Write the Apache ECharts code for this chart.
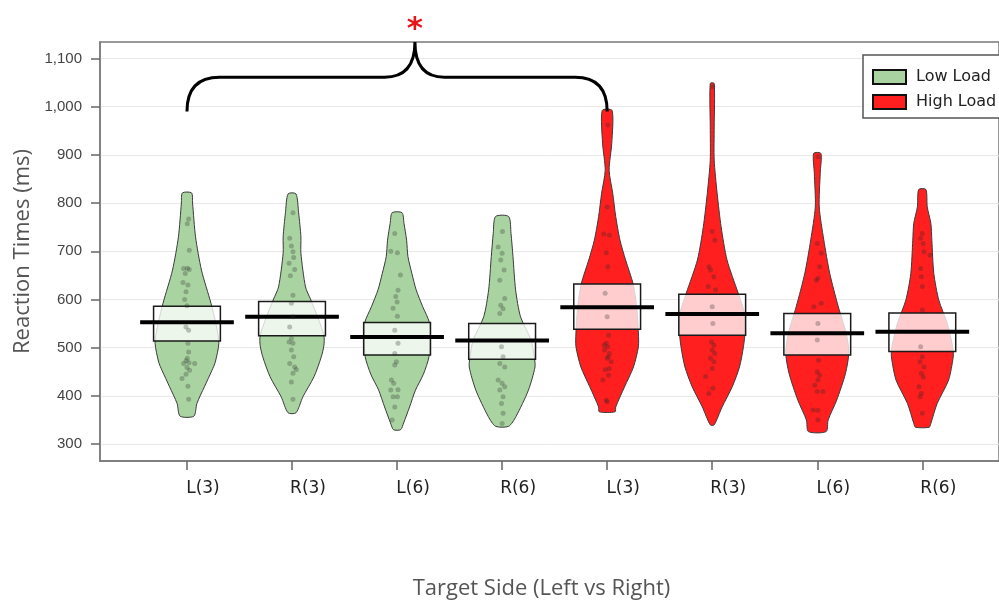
<!DOCTYPE html>
<html>
<head>
<meta charset="utf-8">
<title>Reaction times by target side</title>
<script src="https://cdn.jsdelivr.net/npm/echarts@6/dist/echarts.min.js"></script>
<style>
  html, body { margin: 0; padding: 0; background: #fff; }
  #chart { width: 999px; height: 606px; }
</style>
</head>
<body>
<div id="chart"></div>
<script>
// categories and load condition of each violin
const categories = ["L(3)", "R(3)", "L(6)", "R(6)", "L(3)", "R(3)", "L(6)", "R(6)"];
const loadNames = ["Low Load", "High Load"];
const loadOf = [0, 0, 0, 0, 1, 1, 1, 1];
const yTicks = [300, 400, 500, 600, 700, 800, 900, 1000, 1100];

// mean and confidence interval (ms)
const means = [553, 564, 522, 515, 584, 570, 530, 533];
const ciLow = [514, 525, 485, 476, 538, 526, 485, 492];
const ciHigh = [586, 596, 552, 550, 632, 611, 571, 572];

// violin density profiles: [ms, relative density]
const densLowL3 = [[358, .21], [384, .30], [419, .53], [453, .76], [470, .86], [509, .97], [540, .91], [592, .73], [661, .44], [730, .26], [800, .17], [821, .14]];
const densLowR3 = [[365, .12], [398, .33], [440, .67], [481, .89], [505, .97], [525, .97], [560, .80], [601, .56], [626, .41], [696, .27], [730, .27], [780, .20], [819, .12]];
const densLowL6 = [[330, .11], [344, .20], [377, .38], [412, .56], [445, .80], [481, .97], [522, 1.0], [553, .98], [585, .78], [620, .58], [654, .45], [689, .33], [723, .29], [758, .21], [780, .15]];
const densLowR6 = [[337, .20], [357, .42], [412, .80], [460, 1.0], [480, .98], [516, .88], [564, .56], [620, .41], [689, .33], [737, .27], [772, .20]];
const densHighL3 = [[367, .24], [377, .26], [419, .53], [460, .80], [502, .95], [530, .95], [583, .90], [632, .79], [682, .56], [723, .39], [772, .26], [820, .17], [868, .06], [924, .14], [992, .15]];
const densHighR3 = [[340, .06], [377, .30], [419, .61], [460, .83], [502, .95], [535, 1.0], [572, .98], [613, .79], [682, .45], [751, .27], [820, .15], [889, .06], [958, .06], [1048, .06]];
const densHighL6 = [[326, .27], [350, .33], [391, .59], [447, .86], [490, .96], [530, .88], [585, .64], [654, .38], [723, .20], [792, .06], [862, .09], [903, .11]];
const densHighR6 = [[335, .21], [343, .26], [384, .45], [433, .80], [481, .94], [500, .93], [550, .76], [599, .50], [654, .35], [723, .29], [758, .26], [792, .15], [828, .11]];
const densities = [densLowL3, densLowR3, densLowL6, densLowR6, densHighL3, densHighR3, densHighL6, densHighR6];

// individual participants: [ms, jitter]
const ptsLowL3 = [[767, .016], [757, .003], [702, .022], [664, -.032], [665, .003], [662, .022], [654, -.016], [635, -.038], [630, .009], [616, -.009], [600, -.022], [587, 0], [543, -.01], [536, .016], [509, .009], [491, .016], [478, .003], [473, -.009], [469, .019], [467, -.032], [467, .073], [459, 0], [453, .025], [445, -.009], [436, -.047], [420, .009], [393, .016]];
const ptsLowR3 = [[780, .009], [727, -.022], [711, -.006], [699, .009], [687, .016], [675, -.028], [662, .025], [649, -.016], [609, .009], [592, -.006], [564, .009], [543, -.022], [519, -.006], [512, -.028], [509, .009], [495, -.006], [481, .016], [467, -.022], [460, .025], [455, .041], [447, .009], [429, -.006], [393, .009]];
const ptsLowL6 = [[737, -.022], [700, -.06], [697, .003], [651, .032], [619, .009], [606, -.013], [595, 0], [582, -.038], [565, .003], [536, -.022], [509, .009], [488, -.022], [471, -.006], [464, -.022], [433, -.054], [426, -.032], [413, .009], [412, -.06], [398, -.038], [398, .003], [377, -.022], [350, -.047]];
const ptsLowR6 = [[741, .003], [709, -.038], [696, 0], [682, -.013], [661, .019], [640, -.022], [602, .025], [588, -.013], [581, .009], [571, -.022], [502, -.006], [481, .009], [467, -.022], [460, .025], [433, -.038], [426, 0], [419, .025], [412, -.022], [398, .009], [384, -.006], [364, .009], [343, 0]];
const ptsHighL3 = [[962, .006], [792, 0], [736, -.032], [733, .022], [697, -.009], [668, .006], [613, -.019], [564, 0], [526, .013], [509, -.009], [505, -.03], [502, .006], [495, -.025], [488, .022], [481, .01], [478, 0], [471, .038], [457, .02], [454, -.019], [443, .013], [433, -.041], [391, -.009], [388, 0]];
const ptsHighR3 = [[1041, .006], [741, 0], [723, .025], [668, -.032], [661, -.016], [647, .016], [627, -.038], [620, .032], [585, 0], [550, .006], [512, -.006], [505, .016], [495, 0], [488, .025], [478, -.016], [471, .016], [457, 0], [440, -.063], [416, .006], [405, -.032]];
const ptsHighL6 = [[896, .006], [716, 0], [696, .038], [668, .022], [644, .006], [640, -.01], [592, .038], [585, -.032], [550, .006], [516, 0], [474, .013], [450, 0], [443, .022], [433, .006], [422, -.025], [409, 0], [409, .054], [371, -.041], [370, .006], [350, .006]];
const ptsHighR6 = [[737, 0], [727, -.016], [716, .009], [699, .016], [692, .073], [664, -.016], [647, -.009], [627, 0], [578, 0], [502, -.016], [481, 0], [471, -.022], [460, .016], [447, -.009], [439, .009], [419, -.032], [405, -.009], [398, -.022], [364, 0]];
const points = [ptsLowL3, ptsLowR3, ptsLowL6, ptsLowR6, ptsHighL3, ptsHighR3, ptsHighL6, ptsHighR6];

// significance bracket between first Low and first High violin
const bracket = { from: 0, to: 4, peak: 2.17, low: 990, mid: 1061, top: 1134, star: 1160 };

const loadColors = ["#a9d4a1", "#ff1f1f"];
const VIOLIN_HALF = 0.313;
const BOX_HALF = 0.318;
const MEAN_HALF = 0.446;

function violinItem(params, api) {
  const i = api.value(0);
  const prof = densities[i];
  const right = prof.map(p => api.coord([i + p[1] * VIOLIN_HALF, p[0]]));
  const left = prof.slice().reverse().map(p => api.coord([i - p[1] * VIOLIN_HALF, p[0]]));
  return {
    type: "polygon",
    shape: { points: right.concat(left), smooth: 0.25 },
    style: { fill: api.visual("color"), stroke: "#3a3a3a", lineWidth: 1 }
  };
}

function summaryItem(params, api) {
  const i = api.value(0);
  const tl = api.coord([i - BOX_HALF, ciHigh[i]]);
  const br = api.coord([i + BOX_HALF, ciLow[i]]);
  const m0 = api.coord([i - MEAN_HALF, means[i]]);
  const m1 = api.coord([i + MEAN_HALF, means[i]]);
  return {
    type: "group",
    children: [
      {
        type: "rect",
        shape: { x: tl[0], y: tl[1], width: br[0] - tl[0], height: br[1] - tl[1] },
        style: { fill: "rgba(255,255,255,0.78)", stroke: "#1a1a1a", lineWidth: 1.5 }
      },
      {
        type: "line",
        shape: { x1: m0[0], y1: m0[1], x2: m1[0], y2: m1[1] },
        style: { stroke: "#000", lineWidth: 4 }
      }
    ]
  };
}

function bracketItem(params, api) {
  const b = bracket;
  const c = (x, y) => api.coord([x, y]).join(" ");
  const d = "M " + c(b.from, b.low) +
    " Q " + c(b.from, b.mid) + " " + c(b.from + 0.31, b.mid) +
    " L " + c(b.peak - 0.29, b.mid) +
    " Q " + c(b.peak, b.mid) + " " + c(b.peak, b.top) +
    " Q " + c(b.peak, b.mid) + " " + c(b.peak + 0.28, b.mid) +
    " L " + c(b.to - 0.305, b.mid) +
    " Q " + c(b.to, b.mid) + " " + c(b.to, b.low);
  const s = api.coord([b.peak, b.star]);
  return {
    type: "group",
    children: [
      { type: "path", shape: { pathData: d }, style: { fill: null, stroke: "#000", lineWidth: 3 } },
      {
        type: "text", x: s[0], y: s[1],
        style: { text: "*", fill: "#e8141c", font: "bold 31px 'DejaVu Sans'", align: "center", verticalAlign: "middle" }
      }
    ]
  };
}

const violinSeries = loadNames.map((name, g) => ({
  name: name,
  type: "custom",
  renderItem: violinItem,
  itemStyle: { color: loadColors[g] },
  encode: { x: 0 },
  data: categories.map((c, i) => [i]).filter(d => loadOf[d[0]] === g)
}));

const pointData = [];
points.forEach((list, i) => list.forEach(p => pointData.push([i + p[1], p[0]])));

const chart = echarts.init(document.getElementById("chart"));
chart.setOption({
  animation: false,
  grid: { left: 100, right: -3, top: 42, bottom: 145, show: true, borderColor: "#7a7a7a", borderWidth: 1.5 },
  // legend frame runs off the right edge, as in the source figure
  graphic: [{
    type: "rect",
    x: 863, y: 55, z: 3,
    shape: { width: 170, height: 63 },
    style: { fill: "#fff", stroke: "#555", lineWidth: 1.5 }
  }],
  legend: {
    data: loadNames,
    orient: "vertical",
    left: 863,
    top: 55,
    padding: [14, 10, 9, 9],
    itemGap: 9,
    itemWidth: 33,
    itemHeight: 14,
    icon: "rect",
    itemStyle: { borderColor: "#111", borderWidth: 2 },
    textStyle: { fontFamily: "DejaVu Sans", fontSize: 16, color: "#222", padding: [0, 0, 0, 5] }
  },
  xAxis: {
    type: "value",
    min: -0.828,
    max: 7.73,
    name: "Target Side (Left vs Right)",
    nameLocation: "middle",
    nameGap: 117,
    nameTextStyle: { fontFamily: "Open Sans", fontSize: 22, color: "#555", padding: [0, 16, 0, 0] },
    axisLine: { onZero: false, lineStyle: { color: "#7a7a7a", width: 1.5 } },
    axisTick: { customValues: [0, 1, 2, 3, 4, 5, 6, 7], length: 9, lineStyle: { color: "#666", width: 1.5 } },
    axisLabel: {
      customValues: [0, 1, 2, 3, 4, 5, 6, 7],
      formatter: v => categories[Math.round(v)],
      fontFamily: "DejaVu Sans", fontSize: 17, color: "#222", margin: 19, padding: [0, 0, 0, 32]
    },
    splitLine: { show: false }
  },
  yAxis: {
    type: "value",
    min: 265,
    max: 1134,
    name: "Reaction Times (ms)",
    nameLocation: "middle",
    nameGap: 60,
    nameTextStyle: { fontFamily: "Open Sans", fontSize: 22, color: "#555" },
    axisLine: { show: true, onZero: false, lineStyle: { color: "#7a7a7a", width: 1.5 } },
    axisTick: { show: true, customValues: yTicks, length: 9, lineStyle: { color: "#666", width: 1.5 } },
    axisLabel: {
      customValues: yTicks,
      formatter: v => v.toLocaleString("en-US"),
      fontFamily: "Liberation Sans", fontSize: 15, color: "#444", margin: 18
    },
    splitLine: { show: true, lineStyle: { color: "#e8e8e8", width: 1 } }
  },
  series: violinSeries.concat([
    {
      name: "points",
      type: "scatter",
      symbolSize: 5,
      itemStyle: { color: "rgba(40,40,40,0.35)" },
      silent: true,
      data: pointData
    },
    {
      name: "summary",
      type: "custom",
      renderItem: summaryItem,
      encode: { x: 0 },
      data: categories.map((c, i) => [i])
    },
    {
      name: "bracket",
      type: "custom",
      renderItem: bracketItem,
      clip: false,
      encode: { x: 0 },
      data: [[bracket.from]]
    }
  ])
});
</script>
</body>
</html>
